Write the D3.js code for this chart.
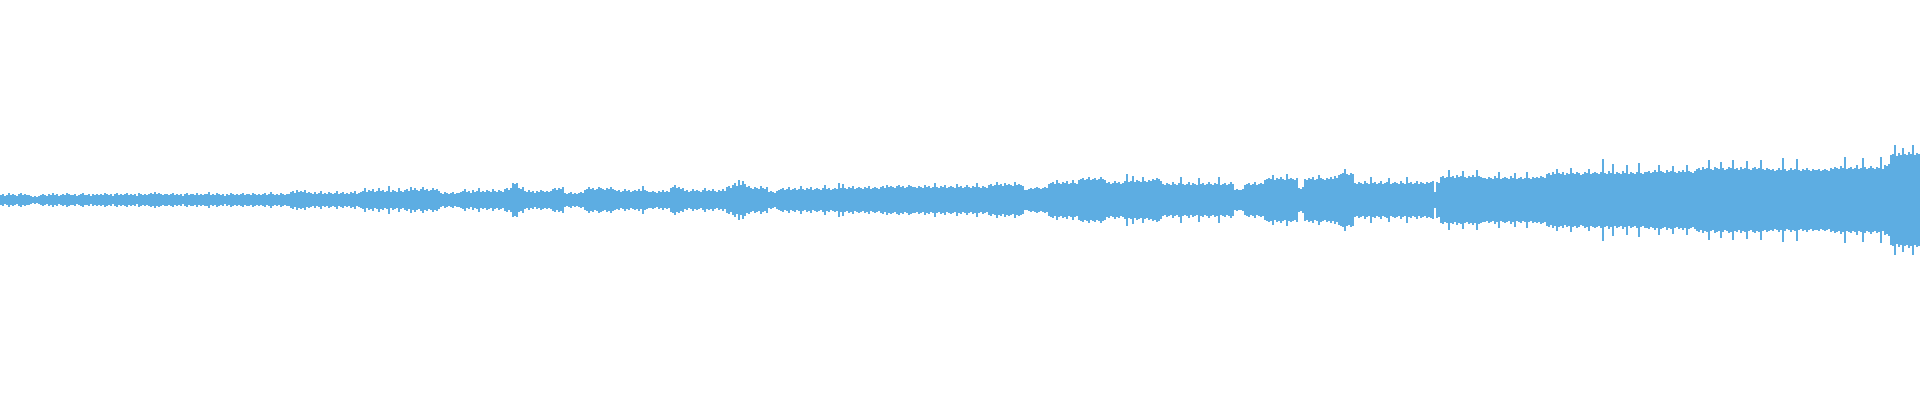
<!DOCTYPE html>
<html>
<head>
<meta charset="utf-8">
<script src="https://cdn.jsdelivr.net/npm/d3@7"></script>
<style>
  html, body { margin: 0; padding: 0; background: #ffffff; }
  svg { display: block; }
</style>
</head>
<body>
<svg id="chart" width="1920" height="400"></svg>
<script>
// Waveform peak amplitudes (symmetric around zero) in five consecutive parts.
const ampPart1 = [5,6,4,5,7,5,6,5,4,6,7,5,6,5,5,
  4,3,4,3,4,
  5,6,5,4,6,5,7,5,6,4,5,6,5,7,6,5,5,6,4,5,6,7,5,5,6,4,6,5,6,5,
  6,5,7,6,5,6,4,6,7,5,6,5,6,7,5,6,5,6,4,7,6,5,6,5,6,
  7,6,8,6,7,6,5,6,
  6,5,6,7,5,6,5,6,4,6,7,5,6,6,5,7,5,6,5,6,6,8,5,6,5,7,6,5,6,4,6,5,7,6,5,6,5,6,7,5,6,6,5,7,6,5,6,5,6,7,5,6,8,6,5,6,5,7,6,5,6,6,
  8,9,7,10,8,9,8,10,7,8,
  7,6,8,6,7,9,6,7,6,8,7,6,7,9,6,7,8,6,7,6,8,7,9,6,7,
  8,9,12,8,10,9,11,8,9,12,9,10];
const ampPart2 = [8,9,14,8,10,9,8,12,9,8,
  10,11,9,13,10,12,10,9,11,13,10,11,9,10,12,10,11,9,
  7,6,8,7,6,7,8,6,7,7,
  8,9,11,8,9,7,10,8,9,12,8,9,8,10,9,8,11,9,8,10,9,8,
  11,12,10,12,17,16,17,12,11,13,
  9,8,10,8,9,7,9,8,10,9,8,9,8,9,
  11,12,10,12,11,13,
  7,6,7,8,6,7,6,7,8,7,
  10,11,13,11,12,10,11,13,12,11,10,12,11,13,11,10,
  9,10,8,9,11,9,10,8,9,10,9,11,9,14,10,9,8,
  8,9,8,7,9,8,10,8,9,8,
  12,13,15,12,13,11,12,
  9,10,8,9,11,9,10,9,8,10,12,9,10,9,11,9,8,10,9,11,9,
  13,14,12,15,17,14,20,15,19,16,13,14,
  12,11,13,12,11,14,12,11,13];
const ampPart3 = [8,9,8,7,9,
  10,11,12,10,11,13,10,11,12,10,11,14,11,10,12,11,13,10,11,12,11,10,12,15,11,12,10,11,
  12,11,17,12,16,12,11,13,12,14,11,12,13,12,11,13,12,14,11,12,13,12,11,
  13,14,12,15,13,14,13,12,14,15,13,14,12,13,15,14,13,
  13,12,14,13,12,15,13,14,12,13,17,13,12,14,13,15,12,13,14,13,12,16,13,14,12,13,15,13,12,14,13,17,13,12,14,13,12,
  15,16,14,15,18,15,16,14,17,15,16,15,14,18,15,16,15,14,
  10,10,11,12,11,12,13,12,11,12,13,12,
  16,17,18,16,20,17,16,18,17,19,16,17,20,17,16,
  20,21,22,20,21,23,20,21,22,20,21,23,21,20,
  17,18,16,17,19,17,18,16,17,19,26,
  18,19,24,18,20,19,18,23,19,18,20,19];
const ampPart4 = [21,20,22,21,19,
  16,15,17,16,15,18,16,15,17,23,16,15,16,18,15,17,16,15,22,16,17,15,16,18,16,15,17,16,23,15,16,17,15,16,18,16,
  10,11,10,10,11,
  15,16,17,15,16,18,15,16,17,16,
  20,21,22,21,25,20,22,21,23,21,20,26,21,22,21,20,22,
  12,11,13,
  21,20,22,21,23,20,21,25,22,21,20,22,21,23,21,24,22,
  25,26,27,31,26,25,27,26,
  17,16,18,17,16,19,17,16,23,17,18,16,17,19,16,17,18,22,16,17,18,17,16,19,17,16,23,17,18,16,17,19,16,18,17,16,18,17,
  18,19,8,18,17,
  23,24,22,23,30,23,24,22,25,23,24,29,23,22,24,23,25,23,30,24,23,22,
  22,21,23,22,21,24,22,28,21,22,23,22,21,24,22,27,21,22,23,21,22,28,22,21,23,22];
const ampPart5 = [23,22,24,23,22,
  26,27,25,28,26,31,27,26,28,25,27,26,32,27,26,28,27,25,26,28,27,31,26,27,28,
  27,26,28,41,27,26,29,27,36,26,28,27,26,29,27,35,26,28,27,26,28,37,27,26,28,
  28,29,27,28,30,28,35,29,28,27,30,28,29,34,28,27,29,28,30,28,35,29,28,27,29,
  31,32,30,33,31,32,40,31,30,33,32,31,38,32,30,31,33,32,40,31,32,30,33,31,32,39,31,30,32,33,31,32,40,31,30,32,31,
  30,31,29,30,32,30,42,31,29,30,32,30,31,41,30,29,31,30,32,30,29,31,30,
  30,31,29,30,31,30,29,
  32,31,33,32,31,34,32,43,31,32,33,31,32,35,31,32,42,33,31,32,34,32,31,33,32,43,31,
  35,34,36,
  45,46,55,44,47,45,52,46,45,48,46,55,45,47,46];

const amplitudes = [].concat(ampPart1, ampPart2, ampPart3, ampPart4, ampPart5);
const amplitudeDomain = [-200, 200];

const W = 1920, H = 400;
const svg = d3.select("#chart");

const x = d3.scaleBand()
  .domain(d3.range(amplitudes.length))
  .range([0, W])
  .padding(0);

const y = d3.scaleLinear()
  .domain(amplitudeDomain)
  .range([H, 0]);

svg.append("g")
  .attr("shape-rendering", "crispEdges")
  .selectAll("rect")
  .data(amplitudes)
  .join("rect")
  .attr("x", (d, i) => x(i))
  .attr("width", x.bandwidth())
  .attr("y", d => y(d))
  .attr("height", d => y(-d) - y(d))
  .attr("fill", "#5dade2");
</script>
</body>
</html>
